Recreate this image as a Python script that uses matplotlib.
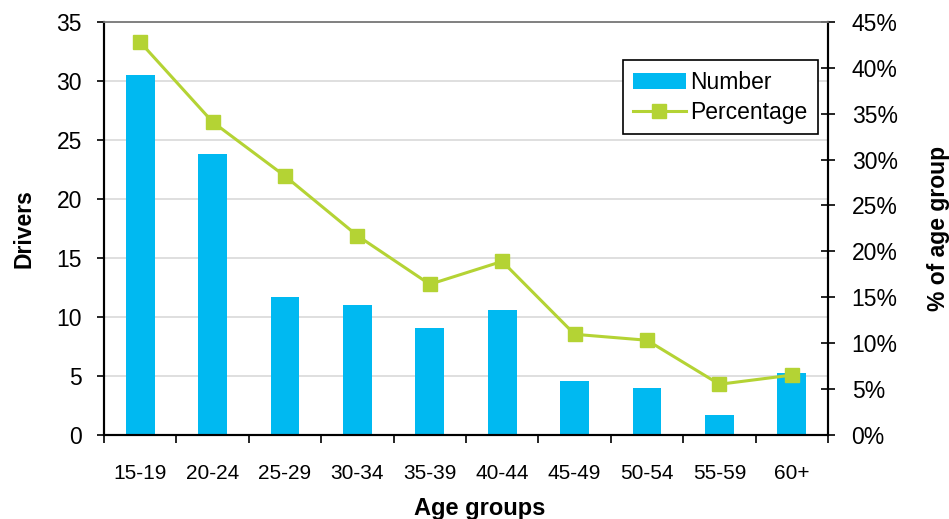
import matplotlib.pyplot as plt
from matplotlib.ticker import FuncFormatter, MultipleLocator, FixedLocator

plt.rcParams['font.family'] = ['Liberation Sans', 'DejaVu Sans']

age_groups = ['15-19', '20-24', '25-29', '30-34', '35-39',
              '40-44', '45-49', '50-54', '55-59', '60+']
drivers = [30.5, 23.8, 11.7, 11.0, 9.05, 10.6, 4.55, 4.0, 1.65, 5.25]
pct_of_group = [42.8, 34.1, 28.2, 21.7, 16.4, 18.9, 10.95, 10.3, 5.5, 6.5]

bar_color = '#00B9F1'
line_color = '#B4D334'

fig = plt.figure(figsize=(9.49, 5.19), dpi=100)
ax1 = fig.add_axes([0.1096, 0.1624, 0.7629, 0.7952])
ax2 = ax1.twinx()

x = range(len(age_groups))
bars = ax1.bar(x, drivers, width=0.4, color=bar_color, zorder=2, label='Number')
line, = ax2.plot(x, pct_of_group, color=line_color, lw=2.2, marker='s',
                 markersize=9.5, label='Percentage', zorder=3)

# left axis: drivers
ax1.set_ylim(0, 35)
ax1.set_xlim(-0.5, len(age_groups) - 0.5)
ax1.yaxis.set_major_locator(MultipleLocator(5))
ax1.yaxis.grid(True, color='#D9D9D9', lw=1.2, zorder=0)
ax1.set_axisbelow(True)
ax1.tick_params(axis='y', labelsize=16.5, length=5, width=1.2, pad=11)
ax1.set_ylabel('Drivers', fontsize=16.5, fontweight='bold')
ax1.yaxis.set_label_coords(-0.094, 0.5)

# category ticks sit between the bars
ax1.set_xticks(list(x))
ax1.set_xticklabels(age_groups)
ax1.xaxis.set_minor_locator(FixedLocator([i - 0.5 for i in range(len(age_groups) + 1)]))
ax1.tick_params(axis='x', which='major', length=0, labelsize=15, pad=21)
ax1.tick_params(axis='x', which='minor', length=6, width=1.2)
ax1.set_xlabel('Age groups', fontsize=17, fontweight='bold')
ax1.xaxis.set_label_coords(0.519, -0.152)

# right axis: share of the age group
ax2.set_ylim(0, 45)
ax2.yaxis.set_major_locator(MultipleLocator(5))
ax2.yaxis.set_major_formatter(FuncFormatter(lambda v, p: f'{v:.0f}%'))
ax2.tick_params(axis='y', labelsize=16.5, direction='inout', length=10,
                width=1.2, pad=12)
ax2.set_ylabel('% of age group', fontsize=16.5, fontweight='bold', rotation=90)
ax2.yaxis.set_label_coords(1.137, 0.5)

for ax in (ax1, ax2):
    ax.spines['top'].set_color('#808080')
    ax.spines['top'].set_linewidth(1.2)
    ax.spines['left'].set_linewidth(1.5)
    ax.spines['bottom'].set_linewidth(1.5)
    ax.spines['right'].set_linewidth(1.5)

leg = ax2.legend([bars, line], ['Number', 'Percentage'], loc='upper right',
                 bbox_to_anchor=(0.986, 0.907), fontsize=16.5, frameon=True,
                 fancybox=False, edgecolor='black', framealpha=1,
                 handlelength=2.3, handletextpad=0.2, labelspacing=0.3,
                 borderpad=0.45, borderaxespad=0)
leg.get_frame().set_linewidth(1.2)

fig.savefig('out.png', dpi=100)
